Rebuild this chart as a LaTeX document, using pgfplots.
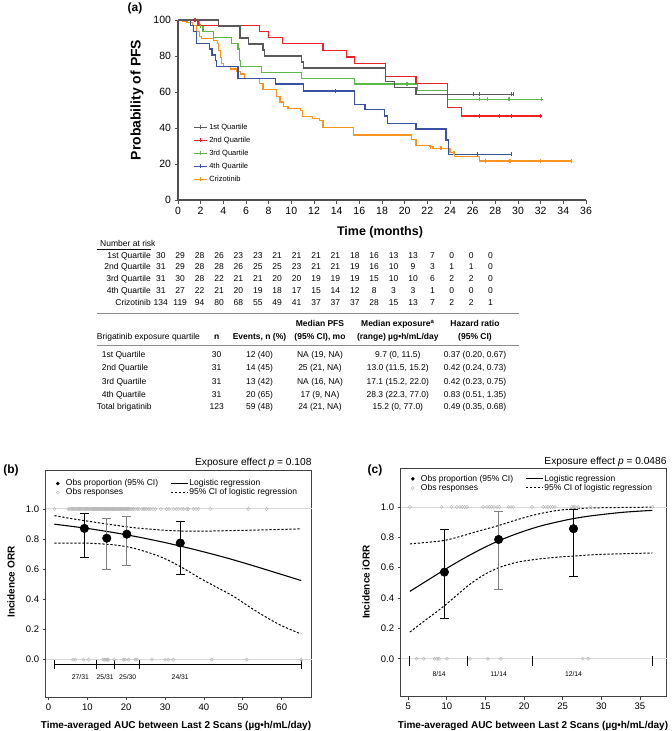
\documentclass[border=0pt]{standalone}
\usepackage{pgfplots}
\pgfplotsset{compat=1.18}
\usepackage{fontspec}
\setmainfont{Liberation Sans}
\newcommand\fs[1]{\fontsize{#1}{#1}\selectfont}
\definecolor{axgray}{HTML}{505050}
\definecolor{boxgray}{HTML}{404040}
\definecolor{cA}{HTML}{5A5A5A}
\definecolor{cB}{HTML}{EE2224}
\definecolor{cC}{HTML}{5BB947}
\definecolor{cD}{HTML}{3953A4}
\definecolor{cE}{HTML}{F7941D}
\definecolor{rulegray}{HTML}{8C8C8C}
\pgfplotsset{
  dotleg/.style={legend image code/.code={\path[draw=none,fill=none] (0cm,-0.05cm) rectangle (0.45cm,0.05cm);
     \draw[black,fill=black] plot[only marks,mark=*,mark size=1.6pt] coordinates {(0.2cm,0cm)};}},
  circleg/.style={legend image code/.code={\path[draw=none,fill=none] (0cm,-0.05cm) rectangle (0.45cm,0.05cm);
     \draw[gray!55,line width=0.5pt] plot[only marks,mark=o,mark size=1.6pt] coordinates {(0.2cm,0cm)};}},
}
\begin{document}
\begin{tikzpicture}
\begin{scope}[x=1pt,y=-1pt]
\path[use as bounding box] (0,0) rectangle (672,731);
% panel labels
\node[font=\fs{12}\bfseries] at (135,8) {(a)};
\node[font=\fs{12}\bfseries] at (11,470) {(b)};
\node[font=\fs{12}\bfseries] at (375,470.7) {(c)};
% KM axis labels
\node[font=\fs{14}\bfseries,rotate=90] at (137,100) {Probability of PFS};
\node[font=\fs{12.5}\bfseries] at (380,232) {Time (months)};
% number at risk
\node[font=\fs{8.5},anchor=base west] at (96.7,246.3) {Number at risk};
\draw[line width=0.6pt] (96.7,248.8) -- (151,248.8);
\foreach \lab [count=\r from 0] in {1st Quartile,2nd Quartile,3rd Quartile,4th Quartile,Crizotinib}
  \node[font=\fs{8.5},anchor=base east,inner sep=0pt] at (151,258+11.8*\r) {\lab};
\foreach \v [count=\i from 0] in {30,29,28,26,23,23,21,21,21,21,18,16,13,13,7,0,0,0}
  \node[font=\fs{8.5},anchor=base,inner sep=0pt] at ({160.8+19.4*\i},258) {\v};
\foreach \v [count=\i from 0] in {31,29,28,28,26,25,25,23,21,21,19,16,10,9,3,1,1,0}
  \node[font=\fs{8.5},anchor=base,inner sep=0pt] at ({160.8+19.4*\i},269.8) {\v};
\foreach \v [count=\i from 0] in {31,30,28,22,21,21,20,20,19,19,19,15,10,10,6,2,2,0}
  \node[font=\fs{8.5},anchor=base,inner sep=0pt] at ({160.8+19.4*\i},281.6) {\v};
\foreach \v [count=\i from 0] in {31,27,22,21,20,19,18,17,15,14,12,8,3,3,1,0,0,0}
  \node[font=\fs{8.5},anchor=base,inner sep=0pt] at ({160.8+19.4*\i},293.4) {\v};
\foreach \v [count=\i from 0] in {134,119,94,80,68,55,49,41,37,37,37,28,15,13,7,2,2,1}
  \node[font=\fs{8.5},anchor=base,inner sep=0pt] at ({160.8+19.4*\i},305.2) {\v};
% summary table
\draw[rulegray,line width=1.6pt] (96.7,313.3) -- (519,313.3);
\draw[rulegray,line width=0.8pt] (96.7,345.5) -- (519,345.5);
\begin{scope}[every node/.style={font=\fs{8.5},anchor=base,inner sep=0pt}]
\node[font=\fs{8.5}\bfseries] at (320,326) {Median PFS};
\node[font=\fs{8.5}\bfseries] at (397.8,326) {Median exposure\textsuperscript{a}};
\node[font=\fs{8.5}\bfseries] at (475,326) {Hazard ratio};
\node[anchor=base west] at (96.7,339.7) {Brigatinib exposure quartile};
\node[font=\fs{8.5}\bfseries] at (216.7,339.7) {n};
\node[font=\fs{8.5}\bfseries] at (259.5,339.7) {Events, n (\%)};
\node[font=\fs{8.5}\bfseries] at (320,339.7) {(95\% CI), mo};
\node[font=\fs{8.5}\bfseries] at (397.8,339.7) {(range) µg•h/mL/day};
\node[font=\fs{8.5}\bfseries] at (475,339.7) {(95\% CI)};
\foreach \a/\b/\c/\d/\e/\f [count=\r from 0] in {
  1st Quartile/30/12 (40)/{NA (19, NA)}/{9.7 (0, 11.5)}/{0.37 (0.20, 0.67)},
  2nd Quartile/31/14 (45)/{25 (21, NA)}/{13.0 (11.5, 15.2)}/{0.42 (0.24, 0.73)},
  3rd Quartile/31/13 (42)/{NA (16, NA)}/{17.1 (15.2, 22.0)}/{0.42 (0.23, 0.75)},
  4th Quartile/31/20 (65)/{17 (9, NA)}/{28.3 (22.3, 77.0)}/{0.83 (0.51, 1.35)}}
{
  \node[anchor=base west] at (101.7,357.3+13.4*\r) {\a};
  \node at (216.7,357.3+13.4*\r) {\b};
  \node at (259.5,357.3+13.4*\r) {\c};
  \node at (320,357.3+13.4*\r) {\d};
  \node at (397.8,357.3+13.4*\r) {\e};
  \node at (475,357.3+13.4*\r) {\f};
}
\node[anchor=base west] at (96.7,409.7) {Total brigatinib};
\node at (216.7,409.7) {123};
\node at (259.5,409.7) {59 (48)};
\node at (320,409.7) {24 (21, NA)};
\node at (397.8,409.7) {15.2 (0, 77.0)};
\node at (475,409.7) {0.49 (0.35, 0.68)};
\end{scope}
% panel b/c annotations
\node[font=\fs{10.2},anchor=east,inner sep=0pt] at (311.7,462.7) {Exposure effect \textit{p} = 0.108};
\node[font=\fs{10.2},anchor=east,inner sep=0pt] at (666.7,462) {Exposure effect \textit{p} = 0.0486};
\node[font=\fs{10}\bfseries,rotate=90] at (11,582) {Incidence ORR};
\node[font=\fs{10}\bfseries,rotate=90] at (366,582) {Incidence iORR};
\node[font=\fs{10}\bfseries] at (176,725.7) {Time-averaged AUC between Last 2 Scans (µg•h/mL/day)};
\node[font=\fs{10}\bfseries] at (533,725.7) {Time-averaged AUC between Last 2 Scans (µg•h/mL/day)};
\end{scope}

%================ KM plot
\begin{axis}[
  at={(178pt,-20pt)}, anchor=north west,
  scale only axis, width=408pt, height=180pt,
  xmin=0,xmax=36,ymin=0,ymax=100,
  axis x line*=bottom, axis y line*=left,
  axis line style={draw=axgray,line width=1.2pt},
  xtick={0,2,...,36}, ytick={0,20,40,60,80,100},
  tick align=outside, major tick length=3.5pt,
  tick style={draw=axgray,line width=1pt},
  ticklabel style={font=\fs{10.5}},
  /pgf/number format/assume math mode=true,
  clip=false,
  legend style={at={(0.03,0.445)},anchor=north west,draw=none,fill=none,font=\fs{7.5},row sep=2.9pt,nodes={inner sep=1.6pt}},
  legend cell align=left,
  legend image code/.code={\draw[mark repeat=2,mark phase=2] plot coordinates {(0cm,0cm)(0.23cm,0cm)(0.46cm,0cm)};},
  every axis plot/.append style={line width=1.2pt},
]
\addlegendimage{cA,mark=|,mark size=2pt}\addlegendentry{1st Quartile}
\addlegendimage{cB,mark=|,mark size=2pt}\addlegendentry{2nd Quartile}
\addlegendimage{cC,mark=|,mark size=2pt}\addlegendentry{3rd Quartile}
\addlegendimage{cD,mark=|,mark size=2pt}\addlegendentry{4th Quartile}
\addlegendimage{cE,mark=|,mark size=2pt}\addlegendentry{Crizotinib}
% Crizotinib
\addplot[const plot,cE,forget plot] coordinates {(0,100) (0.4,99.3) (0.8,98.5) (1.3,97.0) (1.65,93.5) (1.9,91.0) (2.1,89.6) (3.1,88.8) (3.5,87.0) (3.6,83.0) (3.75,79.0) (3.85,76.0) (4.0,74.0) (4.6,72.8) (5.2,71.6) (5.5,70.0) (5.9,67.6) (7.2,64.8) (7.5,61.5) (8.7,57.4) (9.0,54.5) (9.3,51.9) (9.7,50.9) (10.8,49.6) (11.0,46.3) (11.9,45.4) (12.5,44.0) (12.8,40.2) (15.5,36.1) (20.6,33.5) (21.0,30.2) (22.2,29.6) (22.5,28.7) (24.0,26.3) (24.4,24.1) (26.6,21.7) (34.8,21.7)};
\addplot[only marks,mark=|,mark size=2pt,cE,forget plot] coordinates {(22.3,29.6) (23.2,28.7) (24.35,26.3) (27.1,21.7) (29.3,21.7) (32.0,21.7) (34.7,21.7)};
% 4th quartile
\addplot[const plot,cD,forget plot] coordinates {(0,100) (1.1,96.8) (1.35,93.5) (1.65,87.1) (2.8,83.9) (3.0,80.6) (3.3,77.4) (3.4,74.2) (5.3,67.7) (8.6,64.5) (11.1,60.6) (15.6,53.1) (16.5,50.4) (18.2,46.7) (18.5,42.6) (21.0,39.4) (23.65,33.3) (23.9,25.4) (29.4,25.4)};
\addplot[only marks,mark=|,mark size=2pt,cD,forget plot] coordinates {(13.9,60.6) (26.4,25.4) (29.4,25.4)};
% 3rd quartile
\addplot[const plot,cC,forget plot] coordinates {(0,100) (1.9,96.8) (2.2,93.5) (3.1,90.3) (4.7,87.1) (5.3,83.9) (5.4,77.4) (5.5,74.2) (7.4,71.0) (10.9,67.7) (15.6,64.5) (21.1,61.0) (23.8,56.0) (32.2,56.0)};
\addplot[only marks,mark=|,mark size=2pt,cC,forget plot] coordinates {(2.0,96.8) (20.2,64.5) (26.6,56.0) (27.3,56.0) (29.2,56.0) (32.1,56.0)};
% 2nd quartile
\addplot[const plot,cB,forget plot] coordinates {(0,100) (1.77,96.8) (7.2,93.5) (8.0,90.3) (9.2,87.1) (12.8,83.2) (14.9,79.4) (15.6,75.8) (18.3,68.5) (21.0,64.8) (23.8,51.5) (25.0,46.7) (32.1,46.7)};
\addplot[only marks,mark=|,mark size=2pt,cB,forget plot] coordinates {(1.5,100) (26.6,46.7) (28.4,46.7) (29.4,46.7) (32.0,46.7)};
% 1st quartile
\addplot[const plot,cA,forget plot] coordinates {(0,100) (3.56,96.7) (5.47,90.0) (6.2,86.7) (7.5,83.3) (7.6,80.0) (10.9,76.7) (11.1,73.3) (18.3,66.0) (19.1,62.3) (21.0,58.7) (29.6,58.7)};
\addplot[only marks,mark=|,mark size=2pt,cA,forget plot] coordinates {(23.8,58.7) (26.1,58.7) (26.6,58.7) (29.4,58.7) (29.6,58.7)};
\end{axis}

%================ panel (b)
\begin{axis}[
  at={(45.7pt,-470.7pt)}, anchor=north west,
  scale only axis, width=266pt, height=226.6pt,
  xmin=-0.7,xmax=67.7,ymin=-0.25,ymax=1.254,
  axis line style={draw=boxgray,line width=1pt},
  xtick={0,10,20,30,40,50,60}, ytick={0,0.2,0.4,0.6,0.8,1},
  yticklabels={0.0,0.2,0.4,0.6,0.8,1.0},
  xtick pos=left, ytick pos=left, tick align=outside, major tick length=3pt,
  tick style={draw=boxgray,line width=0.8pt},
  ticklabel style={font=\fs{9.5}},
  /pgf/number format/assume math mode=true,
  clip=false,
  legend columns=2,
  legend style={at={(0.012,0.975)},anchor=north west,draw=none,fill=none,font=\fs{8.5},
     nodes={inner sep=1.1pt},row sep=-0.8pt,/tikz/every even column/.append style={column sep=11pt}},
  legend cell align=left,
]
\addlegendimage{dotleg}\addlegendentry{Obs proportion (95\% CI)}
\addlegendimage{black,line width=1.1pt}\addlegendentry{Logistic regression}
\addlegendimage{circleg}\addlegendentry{Obs responses}
\addlegendimage{black,line width=1pt,dash pattern=on 2.2pt off 1.8pt}\addlegendentry{95\% CI of logistic regression}
\addplot[gray!30,line width=1pt,forget plot] coordinates {(-0.7,1) (67.7,1)};
\addplot[gray!30,line width=1pt,forget plot] coordinates {(-0.7,0) (67.7,0)};
% observed responses
\addplot[only marks,mark=o,mark size=1.6pt,gray!55,line width=0.5pt,forget plot] coordinates {
(1.55,1) (5.1,1) (5.5,1) (5.9,1) (6.2,1) (6.5,1) (6.8,1) (7.1,1) (7.4,1) (7.7,1) (8.0,1) (8.3,1) (8.6,1) (8.9,1) (9.2,1) (9.5,1) (9.8,1) (10.1,1) (10.4,1) (10.7,1) (11.0,1) (11.3,1) (11.6,1) (11.8,1) (12.0,1) (12.2,1) (12.35,1)
(12.5,1) (12.7,1) (12.9,1) (13.1,1) (13.3,1) (13.5,1) (13.7,1) (13.9,1) (14.1,1) (14.3,1) (14.5,1) (14.7,1) (14.9,1) (15.1,1) (15.3,1) (15.5,1) (15.7,1) (15.9,1) (16.1,1) (16.3,1) (16.5,1) (16.6,1) (16.7,1) (16.8,1) (16.9,1)
(17.1,1) (17.3,1) (17.5,1) (17.7,1) (17.9,1) (18.1,1) (18.3,1) (18.5,1) (18.7,1) (18.9,1) (19.1,1) (19.3,1) (19.5,1) (19.7,1) (19.9,1) (20.1,1) (20.3,1) (20.6,1) (20.9,1) (21.2,1) (21.5,1) (21.9,1) (22.4,1) (22.9,1) (23.3,1)
(24.0,1) (24.4,1) (24.8,1) (25.3,1) (25.8,1) (26.2,1) (26.9,1) (27.5,1) (28.9,1) (30.4,1) (31.0,1) (32.1,1) (32.9,1) (33.5,1) (34.3,1) (34.8,1) (35.6,1) (36.0,1) (37.3,1) (38.0,1) (38.6,1) (41.6,1) (51.4,1) (56.1,1)
(6.3,0) (6.9,0) (9.0,0) (10.3,0) (14.1,0) (14.5,0) (14.8,0) (15.2,0) (15.4,0) (16.9,0) (19.3,0) (19.7,0) (20.6,0) (22.3,0) (22.7,0) (26.6,0) (30.0,0) (30.8,0) (32.1,0) (42.0,0) (51.0,0) (65.0,0)};
% CI of logistic regression
\addplot[black,line width=1pt,dash pattern=on 2.2pt off 1.8pt,smooth,forget plot] coordinates {(1.55,0.956) (5,0.94) (9.9,0.92) (16.7,0.894) (21.9,0.876) (28.7,0.861) (33.9,0.854) (40,0.853) (47.6,0.857) (55,0.861) (65,0.868)};
\addplot[black,line width=1pt,dash pattern=on 2.2pt off 1.8pt,smooth,forget plot] coordinates {(1.55,0.773) (9.9,0.773) (16.7,0.762) (21.9,0.74) (28.7,0.684) (33.9,0.618) (39,0.54) (43.3,0.48) (47.6,0.42) (52,0.345) (56.1,0.28) (60,0.225) (65,0.17)};
% logistic regression
\addplot[black,line width=1.1pt,smooth,forget plot] coordinates {(1.55,0.899) (5,0.888) (10,0.871) (15,0.851) (20,0.829) (25,0.804) (30,0.777) (35,0.747) (40,0.715) (45,0.681) (50,0.644) (55,0.605) (60,0.565) (65,0.525)};
% bracket
\addplot[black,line width=0.8pt,forget plot] coordinates {(1.55,-0.033) (65,-0.033)};
\addplot[black,line width=0.8pt,forget plot] coordinates {(1.55,0) (1.55,-0.06)};
\addplot[black,line width=0.8pt,forget plot] coordinates {(12.4,0) (12.4,-0.06)};
\addplot[black,line width=0.8pt,forget plot] coordinates {(17.0,0) (17.0,-0.06)};
\addplot[black,line width=0.8pt,forget plot] coordinates {(23.4,0) (23.4,-0.06)};
\addplot[black,line width=0.8pt,forget plot] coordinates {(65,0) (65,-0.06)};
\node[font=\fs{6.8}] at (axis cs:8.2,-0.115) {27/31};
\node[font=\fs{6.8}] at (axis cs:14.6,-0.115) {25/31};
\node[font=\fs{6.8}] at (axis cs:20.4,-0.115) {25/30};
\node[font=\fs{6.8}] at (axis cs:33.9,-0.115) {24/31};
% observed proportions
\addplot[only marks,mark=*,mark size=4.3pt,black,forget plot,
  error bars/.cd,y dir=both,y explicit,
  error bar style={line width=0.8pt,black},
  error mark options={rotate=90,mark size=4.6pt,line width=0.8pt,black}]
  coordinates {(9.25,0.871) += (0,0.100) -= (0,0.191) (33.9,0.774) += (0,0.142) -= (0,0.206)};
\addplot[only marks,mark=*,mark size=4.3pt,black,forget plot,
  error bars/.cd,y dir=both,y explicit,
  error bar style={line width=0.8pt,gray},
  error mark options={rotate=90,mark size=4.6pt,line width=0.8pt,gray}]
  coordinates {(15.0,0.806) += (0,0.132) -= (0,0.206) (20.15,0.833) += (0,0.116) -= (0,0.208)};
\end{axis}

%================ panel (c)
\begin{axis}[
  at={(400.7pt,-468.3pt)}, anchor=north west,
  scale only axis, width=266pt, height=228.4pt,
  xmin=4.02,xmax=38.47,ymin=-0.25,ymax=1.255,
  axis line style={draw=boxgray,line width=1pt},
  xtick={5,10,15,20,25,30,35}, ytick={0,0.2,0.4,0.6,0.8,1},
  yticklabels={0.0,0.2,0.4,0.6,0.8,1.0},
  xtick pos=left, ytick pos=left, tick align=outside, major tick length=3pt,
  tick style={draw=boxgray,line width=0.8pt},
  ticklabel style={font=\fs{9.5}},
  /pgf/number format/assume math mode=true,
  clip=false,
  legend columns=2,
  legend style={at={(0.012,0.985)},anchor=north west,draw=none,fill=none,font=\fs{8.5},
     nodes={inner sep=1.1pt},row sep=-0.8pt,/tikz/every even column/.append style={column sep=11pt}},
  legend cell align=left,
]
\addlegendimage{dotleg}\addlegendentry{Obs proportion (95\% CI)}
\addlegendimage{black,line width=1.1pt}\addlegendentry{Logistic regression}
\addlegendimage{circleg}\addlegendentry{Obs responses}
\addlegendimage{black,line width=1pt,dash pattern=on 2.2pt off 1.8pt}\addlegendentry{95\% CI of logistic regression}
\addplot[gray!30,line width=1pt,forget plot] coordinates {(4.02,1) (38.47,1)};
\addplot[gray!30,line width=1pt,forget plot] coordinates {(4.02,0) (38.47,0)};
\addplot[only marks,mark=o,mark size=1.6pt,gray!55,line width=0.5pt,forget plot] coordinates {
(5.2,1) (9.3,1) (10.6,1) (11.3,1) (11.7,1) (12.0,1) (12.3,1) (12.6,1)
(14.7,1) (15.2,1) (15.5,1) (15.8,1) (16.1,1) (16.5,1) (16.8,1) (18.0,1) (18.3,1) (18.6,1) (21.0,1)
(22.5,1) (22.8,1) (23.1,1) (23.4,1) (23.7,1) (24.0,1) (26.2,1) (26.4,1) (26.6,1) (27.0,1) (28.6,1) (36.6,1)
(6.1,0) (7.0,0) (8.4,0) (8.7,0) (9.0,0) (10.0,0) (13.0,0) (15.3,0) (17.0,0) (27.6,0) (28.3,0)};
\addplot[black,line width=1pt,dash pattern=on 2.2pt off 1.8pt,smooth,forget plot] coordinates {(5.2,0.757) (7,0.765) (9.7,0.78) (12,0.81) (14,0.84) (16.7,0.878) (19,0.915) (21.5,0.95) (24,0.975) (26.4,0.988) (30,0.995) (36.6,0.999)};
\addplot[black,line width=1pt,dash pattern=on 2.2pt off 1.8pt,smooth,forget plot] coordinates {(5.2,0.176) (7.5,0.265) (9.7,0.35) (12.7,0.48) (14.7,0.55) (16.7,0.6) (19,0.635) (21.5,0.655) (24,0.668) (26.4,0.677) (30,0.688) (36.6,0.697)};
\addplot[black,line width=1.1pt,smooth,forget plot] coordinates {(5.2,0.444) (8,0.533) (10,0.596) (12,0.656) (14,0.711) (16,0.761) (18,0.804) (20,0.841) (22,0.873) (24,0.898) (26,0.92) (28,0.937) (30,0.95) (33,0.966) (36.6,0.978)};
\addplot[black,line width=0.8pt,forget plot] coordinates {(5.1,0.015) (5.1,-0.05)};
\addplot[black,line width=0.8pt,forget plot] coordinates {(12.7,0.015) (12.7,-0.05)};
\addplot[black,line width=0.8pt,forget plot] coordinates {(21.1,0.015) (21.1,-0.05)};
\addplot[black,line width=0.8pt,forget plot] coordinates {(36.6,0.015) (36.6,-0.05)};
\node[font=\fs{6.8}] at (axis cs:9.0,-0.1) {8/14};
\node[font=\fs{6.8}] at (axis cs:16.7,-0.1) {11/14};
\node[font=\fs{6.8}] at (axis cs:26.4,-0.1) {12/14};
\addplot[only marks,mark=*,mark size=4.3pt,black,forget plot,
  error bars/.cd,y dir=both,y explicit,
  error bar style={line width=0.8pt,black},
  error mark options={rotate=90,mark size=4.6pt,line width=0.8pt,black}]
  coordinates {(9.68,0.571) += (0,0.284) -= (0,0.307) (26.4,0.857) += (0,0.126) -= (0,0.314)};
\addplot[only marks,mark=*,mark size=4.3pt,black,forget plot,
  error bars/.cd,y dir=both,y explicit,
  error bar style={line width=0.8pt,gray},
  error mark options={rotate=90,mark size=4.6pt,line width=0.8pt,gray}]
  coordinates {(16.7,0.786) += (0,0.184) -= (0,0.326)};
\end{axis}
\end{tikzpicture}
\end{document}
